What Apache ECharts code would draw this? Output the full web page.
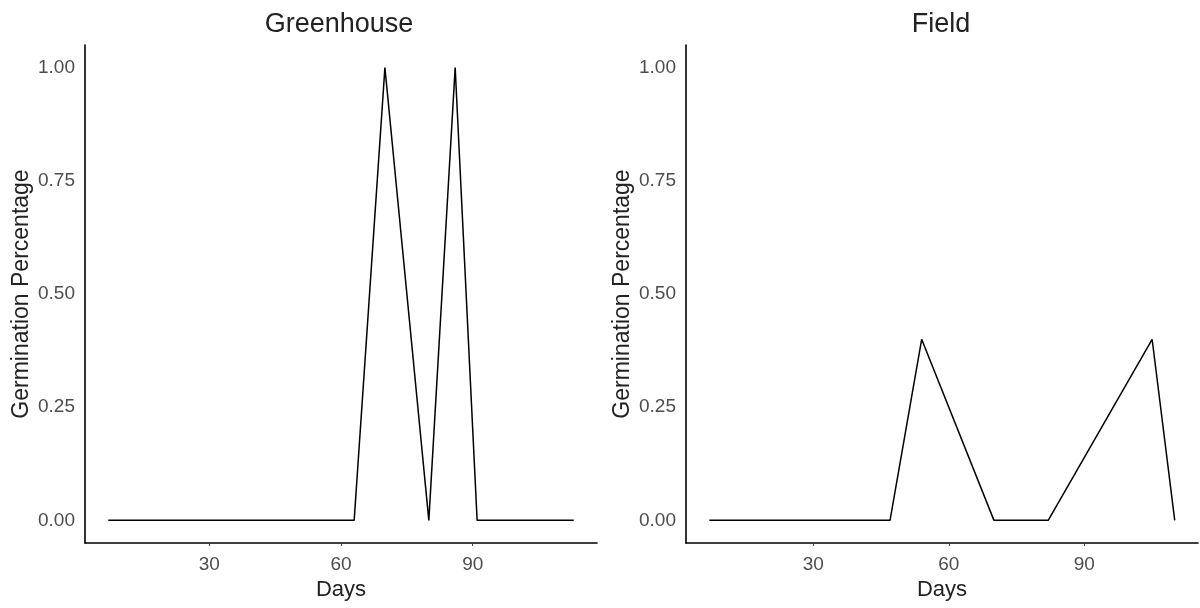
<!DOCTYPE html>
<html>
<head>
<meta charset="utf-8">
<script src="https://cdn.jsdelivr.net/npm/echarts@6/dist/echarts.min.js"></script>
<style>
  html, body { margin: 0; padding: 0; background: #fff; }
  #main { width: 1200px; height: 608px; }
</style>
</head>
<body>
<div id="main"></div>
<script>
// panel titles
var panels = ['Greenhouse', 'Field'];

// Greenhouse: days and germination
var ghDays = [7, 63, 70, 80, 86, 91, 113];
var ghGerm = [0, 0, 1, 0, 1, 0, 0];

// Field: days and germination
var fdDays = [7, 47, 54, 70, 82, 105, 110];
var fdGerm = [0, 0, 0.4, 0, 0, 0.4, 0];

var xTicks = [30, 60, 90];
var yTicks = [0, 0.25, 0.5, 0.75, 1];

function pairs(xs, ys) {
  var out = [];
  for (var i = 0; i < xs.length; i++) out.push([xs[i], ys[i]]);
  return out;
}

// ggplot style padding: 5% of data range on each side
function padRange(xs) {
  var lo = Math.min.apply(null, xs), hi = Math.max.apply(null, xs);
  var p = (hi - lo) * 0.05;
  return [lo - p, hi + p];
}

var font = 'Liberation Sans, Arial, sans-serif';
var axisLine = { show: true, onZero: false, lineStyle: { color: '#000', width: 1.6 } };

function xAxisFor(idx, xs) {
  var r = padRange(xs);
  return {
    type: 'value', gridIndex: idx, min: r[0], max: r[1],
    name: 'Days', nameLocation: 'middle', nameGap: 31,
    nameTextStyle: { fontSize: 22, color: '#222', fontFamily: font },
    axisLine: axisLine,
    axisTick: { show: true, length: 3, customValues: xTicks, lineStyle: { color: '#444', width: 1 } },
    axisLabel: { customValues: xTicks, fontSize: 19, color: '#4d4d4d', fontFamily: font, margin: 12 },
    splitLine: { show: false }
  };
}

function yAxisFor(idx) {
  return {
    type: 'value', gridIndex: idx, min: -0.05, max: 1.05,
    name: 'Germination Percentage', nameLocation: 'middle', nameGap: 52,
    nameTextStyle: { fontSize: 23, color: '#222', fontFamily: font },
    axisLine: axisLine,
    axisTick: { show: false },
    axisLabel: {
      customValues: yTicks, fontSize: 19, color: '#4d4d4d', fontFamily: font, margin: 10,
      formatter: function (v) { return v.toFixed(2); }
    },
    splitLine: { show: false }
  };
}

var chart = echarts.init(document.getElementById('main'), null, { renderer: 'canvas' });

var option = {
  backgroundColor: '#fff',
  animation: false,
  title: [
    { text: panels[0], left: 334, top: 6, textAlign: 'center',
      textStyle: { fontSize: 27, fontWeight: 'normal', color: '#222', fontFamily: font } },
    { text: panels[1], left: 936, top: 6, textAlign: 'center',
      textStyle: { fontSize: 27, fontWeight: 'normal', color: '#222', fontFamily: font } }
  ],
  grid: [
    { left: 85, right: 603, top: 45, bottom: 65 },
    { left: 686, right: 2, top: 45, bottom: 65 }
  ],
  xAxis: [xAxisFor(0, ghDays), xAxisFor(1, fdDays)],
  yAxis: [yAxisFor(0), yAxisFor(1)],
  series: [
    {
      type: 'line', xAxisIndex: 0, yAxisIndex: 0,
      data: pairs(ghDays, ghGerm), showSymbol: false,
      lineStyle: { color: '#000', width: 1.5 }
    },
    {
      type: 'line', xAxisIndex: 1, yAxisIndex: 1,
      data: pairs(fdDays, fdGerm), showSymbol: false,
      lineStyle: { color: '#000', width: 1.5 }
    }
  ]
};

chart.setOption(option);
</script>
</body>
</html>
